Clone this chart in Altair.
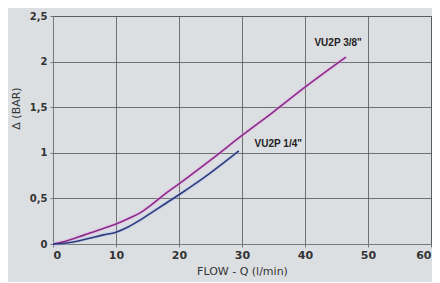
import altair as alt
import pandas as pd

x38 = [0, 2, 5, 8, 10, 12, 14, 16, 18, 20, 25, 30, 35, 40, 46.5]
y38 = [0, 0.03, 0.1, 0.17, 0.22, 0.28, 0.35, 0.45, 0.56, 0.66, 0.92, 1.19, 1.45, 1.72, 2.05]
x14 = [0, 3, 5, 8, 10, 12, 14, 16, 18, 20, 25, 29.5]
y14 = [0, 0.02, 0.05, 0.1, 0.13, 0.19, 0.27, 0.36, 0.45, 0.54, 0.78, 1.02]
label_names = ['VU2P 3/8"', 'VU2P 1/4"']
label_x = [41.5, 32]
label_y = [2.2, 1.1]

df = pd.DataFrame(
    [{"q": a, "p": b, "s": "3/8"} for a, b in zip(x38, y38)]
    + [{"q": a, "p": b, "s": "1/4"} for a, b in zip(x14, y14)]
)
lab = pd.DataFrame({"t": label_names, "q": label_x, "p": label_y})

xs = alt.Scale(domain=[0, 60], nice=False)
ys = alt.Scale(domain=[0, 2.5], nice=False)

base = alt.Chart(df)
glow = base.mark_line(strokeWidth=4, opacity=0.35, interpolate="monotone").encode(
    x=alt.X("q:Q", scale=xs),
    y=alt.Y("p:Q", scale=ys),
    color=alt.Color("s:N", scale=alt.Scale(domain=["3/8", "1/4"], range=["#e8a8e8", "#a8c0f0"]), legend=None),
    detail="s:N",
)
lines = base.mark_line(strokeWidth=1.6, interpolate="monotone").encode(
    x=alt.X("q:Q", scale=xs,
            axis=alt.Axis(title="FLOW - Q (l/min)", values=[0, 10, 20, 30, 40, 50, 60],
                          grid=True, gridColor="#555555", gridOpacity=0.8, domainColor="#777777",
                          tickColor="#777777", tickSize=3, labelFontWeight="bold", labelFontSize=11,
                          labelColor="#333333", titleFontWeight="normal", titleFontSize=11,
                          titleColor="#333333", titlePadding=5, labelPadding=2)),
    y=alt.Y("p:Q", scale=ys,
            axis=alt.Axis(title="Δ  (BAR)", values=[0, 0.5, 1, 1.5, 2, 2.5],
                          labelExpr="replace('' + datum.value, '.', ',')",
                          grid=True, gridColor="#555555", gridOpacity=0.8, domainColor="#777777",
                          tickColor="#777777", tickSize=3, labelFontWeight="bold", labelFontSize=10,
                          labelColor="#333333", titleFontWeight="normal", titleFontSize=11,
                          titleColor="#333333", titlePadding=8, labelPadding=3, titleY=92)),
    color=alt.Color("s:N", scale=alt.Scale(domain=["3/8", "1/4"], range=["#8a2a8a", "#2e3a7a"]), legend=None),
)
texts = alt.Chart(lab).mark_text(fontWeight="bold", fontSize=10, color="#222222", align="left").encode(
    x=alt.X("q:Q", scale=xs), y=alt.Y("p:Q", scale=ys), text="t:N"
)

chart = (glow + lines + texts).resolve_scale(color="independent").properties(
    width=378, height=228, background="#dcdfe2",
    autosize=alt.AutoSizeParams(type="none"),
    padding={"left": 45, "top": 8, "right": 1, "bottom": 38},
).configure_view(stroke="#777777", strokeWidth=1).configure_axis(labelFont="DejaVu Sans", titleFont="DejaVu Sans")

chart.save("out.html", embed_options={"renderer": "svg", "actions": False})
